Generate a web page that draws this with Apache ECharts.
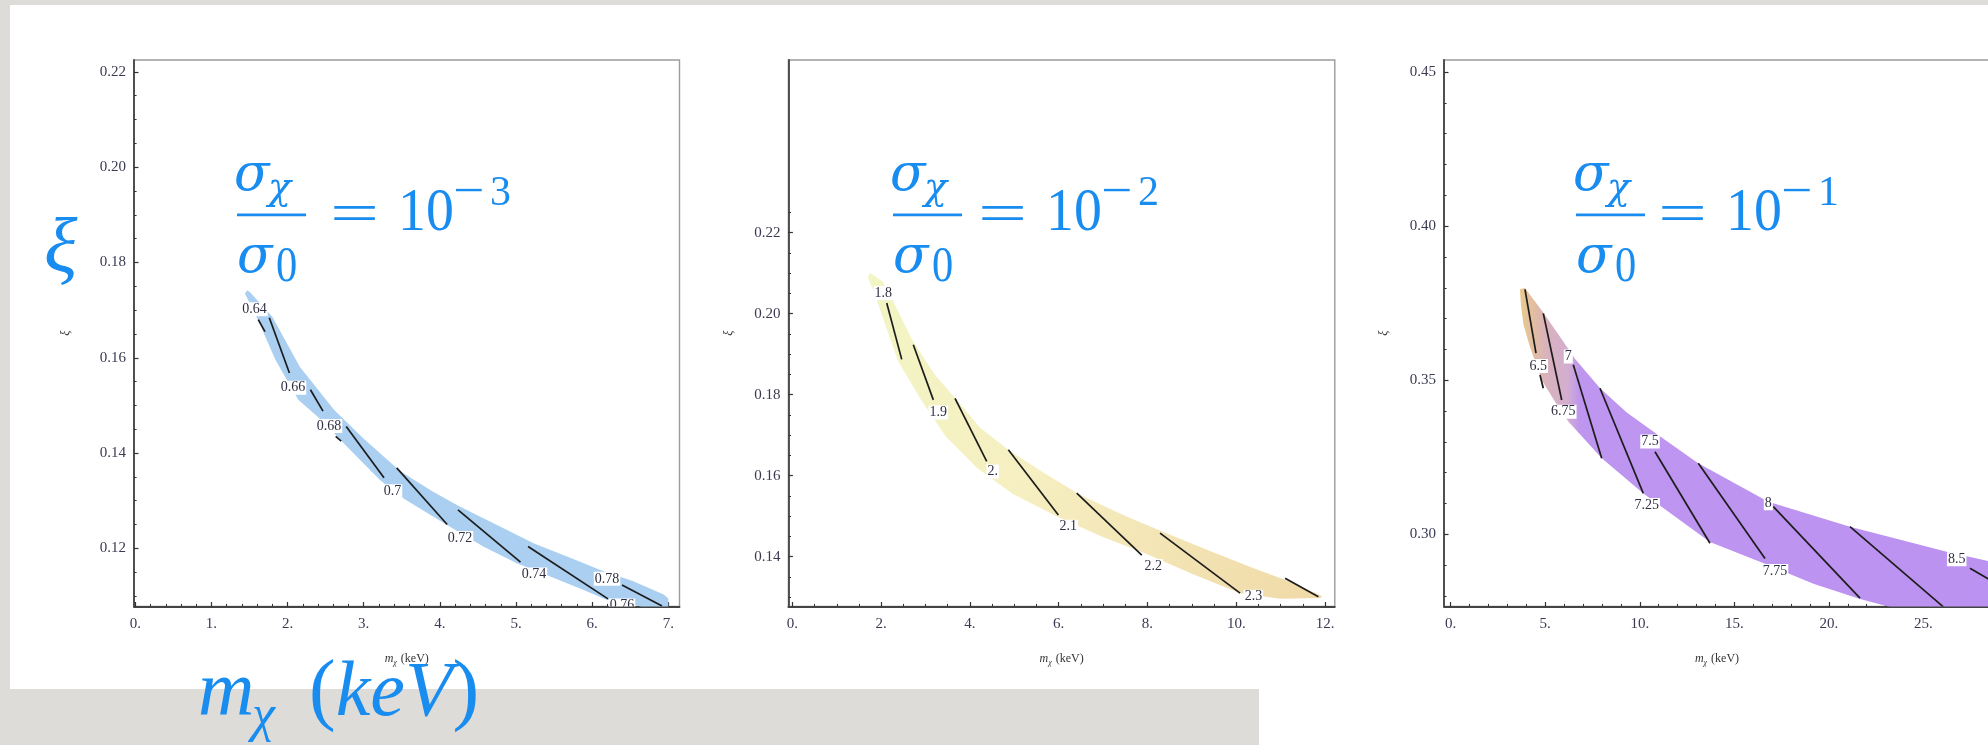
<!DOCTYPE html>
<html>
<head>
<meta charset="utf-8">
<script src="https://cdn.jsdelivr.net/npm/echarts@6/dist/echarts.min.js"></script>
<style>
  html, body { margin: 0; padding: 0; width: 1988px; height: 745px; overflow: hidden; background: #dedcd8; }
  #sheetTop { position: absolute; left: 10px; top: 5px; width: 1978px; height: 684px; background: #fff; }
  #sheetFoot { position: absolute; left: 1259px; top: 689px; width: 729px; height: 56px; background: #fff; }
  #chart { position: absolute; left: 0; top: 0; width: 1988px; height: 745px; }
</style>
</head>
<body>
<div id="sheetTop"></div>
<div id="sheetFoot"></div>
<div id="chart"></div>
<script>
// ---------- tick labels ----------
const xTicks1 = [0, 1, 2, 3, 4, 5, 6, 7];
const yTicks1 = [0.12, 0.14, 0.16, 0.18, 0.20, 0.22];
const xTicks2 = [0, 2, 4, 6, 8, 10, 12];
const yTicks2 = [0.14, 0.16, 0.18, 0.20, 0.22];
const xTicks3 = [0, 5, 10, 15, 20, 25];
const yTicks3 = [0.30, 0.35, 0.40, 0.45];

// ---------- σχ/σ0 = 10^-3 : allowed band in (mχ [keV], ξ) ----------
const band1Upper = [[1.47,0.1742],[1.51,0.1737],[1.80,0.1686],[2.16,0.1581],[2.61,0.1491],[3.00,0.1430],[3.48,0.1362],[3.90,0.1320],[4.26,0.1288],[4.79,0.1246],[5.23,0.1211],[5.67,0.1183],[6.10,0.1155],[6.54,0.1131],[6.94,0.1103],[7.00,0.1095]];
const band1Lower = [[1.44,0.1735],[1.61,0.1680],[1.84,0.1596],[2.14,0.1512],[2.44,0.1470],[2.82,0.1407],[3.21,0.1344],[3.48,0.1309],[4.05,0.1253],[4.57,0.1204],[5.01,0.1169],[5.45,0.1141],[5.88,0.1113],[6.19,0.1092],[6.54,0.1082],[7.00,0.1060]];
const contours1 = [
  [[1.615,0.1680],[1.703,0.1655]],
  [[1.760,0.1684],[2.024,0.1568]],
  [[2.300,0.1533],[2.465,0.1488]],
  [[2.632,0.1435],[2.704,0.1425]],
  [[2.770,0.1456],[3.266,0.1348]],
  [[3.433,0.1369],[4.096,0.1250]],
  [[4.238,0.1281],[5.059,0.1171]],
  [[5.158,0.1204],[6.208,0.1094]],
  [[6.392,0.1123],[6.918,0.1079]]
];
const labels1 = [['0.64',1.565,0.1702],['0.66',2.071,0.1537],['0.68',2.544,0.1457],['0.7',3.378,0.1320],['0.72',4.265,0.1222],['0.74',5.236,0.1145],['0.78',6.195,0.1136],['0.76',6.392,0.1080]];

// ---------- σχ/σ0 = 10^-2 ----------
const band2Upper = [[1.75,0.2101],[2.04,0.2078],[2.31,0.2022],[2.70,0.1935],[3.21,0.1849],[3.66,0.1792],[4.23,0.1718],[4.90,0.1661],[5.69,0.1605],[6.48,0.1553],[7.49,0.1501],[8.40,0.1459],[9.41,0.1414],[10.42,0.1370],[11.21,0.1338],[11.93,0.1303]];
const band2Lower = [[1.70,0.2089],[1.86,0.2047],[2.09,0.1973],[2.38,0.1883],[2.90,0.1787],[3.46,0.1696],[4.16,0.1619],[4.97,0.1555],[5.99,0.1498],[6.98,0.1449],[7.97,0.1407],[9.00,0.1358],[10.09,0.1310],[11.00,0.1296],[11.90,0.1298]];
const contours2 = [
  [[2.125,0.2026],[2.463,0.1887]],
  [[2.724,0.1923],[3.175,0.1787]],
  [[3.664,0.1791],[4.378,0.1635]],
  [[4.865,0.1664],[5.992,0.1503]],
  [[6.406,0.1557],[7.871,0.1404]],
  [[8.283,0.1458],[10.086,0.1310]],
  [[11.100,0.1347],[11.850,0.1301]]
];
const labels2 = [['1.8',2.048,0.2051],['1.9',3.288,0.1756],['2.',4.513,0.1610],['2.1',6.217,0.1474],['2.2',8.132,0.1377],['2.3',10.386,0.1301]];

// ---------- σχ/σ0 = 10^-1 ----------
const band3Upper = [[3.93,0.3799],[4.90,0.3719],[5.78,0.3641],[6.57,0.3570],[7.90,0.3474],[9.31,0.3395],[10.80,0.3330],[13.09,0.3231],[16.80,0.3106],[21.12,0.3025],[26.23,0.2944],[29.00,0.2905]];
const band3Lower = [[3.66,0.3795],[3.72,0.3740],[3.85,0.3680],[4.19,0.3609],[4.81,0.3501],[5.52,0.3430],[6.22,0.3366],[7.99,0.3247],[10.19,0.3133],[13.71,0.2975],[16.62,0.2905],[19.18,0.2840],[21.65,0.2790],[24.00,0.2752],[29.00,0.2700]];
const contours3 = [
  [[3.929,0.3795],[4.511,0.3588]],
  [[4.722,0.3517],[4.897,0.3474]],
  [[4.897,0.3717],[5.870,0.3436]],
  [[6.483,0.3550],[7.985,0.3247]],
  [[7.895,0.3474],[10.185,0.3133]],
  [[10.804,0.3268],[13.712,0.2971]],
  [[13.094,0.3231],[16.621,0.2922]],
  [[17.06,0.3090],[21.645,0.2793]],
  [[21.116,0.3025],[26.05,0.2765]],
  [[27.46,0.2890],[29.00,0.2835]]
];
const labels3 = [['6.5',4.633,0.3546],['7',6.219,0.3577],['6.75',5.955,0.3398],['7.5',10.540,0.3301],['7.25',10.365,0.3095],['8',16.796,0.3101],['7.75',17.15,0.2881],['8.5',26.76,0.2919]];

// ---------- styling ----------
const SERIF = '"Liberation Serif", "DejaVu Serif", "Times New Roman", serif';
const GREEK = '"DejaVu Serif", "Liberation Serif", serif';
const BLUE = '#198cf0';
const TICK_TEXT = '#3a3a52';

function steps(a, b, s) {
  const out = [];
  for (let k = 0; a + k * s <= b + 1e-9; k++) out.push(+(a + k * s).toFixed(4));
  return out;
}

const panels = [
  {
    grid: { left: 134, top: 60, width: 545.5, height: 546.5 },
    xRange: [-0.017, 7.147], yRange: [0.1078, 0.2225],
    xTicks: xTicks1, yTicks: yTicks1,
    xMinor: steps(0, 7.1, 0.2), yMinor: steps(0.11, 0.22, 0.005),
    upper: band1Upper, lower: band1Lower, contours: contours1, labels: labels1,
    fill: '#abcff1', yNameGap: 62
  },
  {
    grid: { left: 788.4, top: 60, width: 546.4, height: 546.5 },
    xRange: [-0.09, 12.22], yRange: [0.1277, 0.2626],
    xTicks: xTicks2, yTicks: yTicks2,
    xMinor: steps(0, 12, 0.5), yMinor: steps(0.13, 0.225, 0.005),
    upper: band2Upper, lower: band2Lower, contours: contours2, labels: labels2,
    fill: new echarts.graphic.LinearGradient(0, 0, 1, 1, [
      { offset: 0, color: '#f2f5c4' },
      { offset: 0.45, color: '#f6efc1' },
      { offset: 1, color: '#f0d9a7' }
    ]),
    yNameGap: 54
  },
  {
    grid: { left: 1444, top: 60, width: 546, height: 546.5 },
    xRange: [-0.354, 28.52], yRange: [0.2766, 0.4539],
    xTicks: xTicks3, yTicks: yTicks3,
    xMinor: steps(0, 28, 1), yMinor: steps(0.28, 0.45, 0.01),
    upper: band3Upper, lower: band3Lower, contours: contours3, labels: labels3,
    fill: new echarts.graphic.LinearGradient(0, 0, 1, 0, [
      { offset: 0, color: '#e9c98f' },
      { offset: 0.03, color: '#e2bda2' },
      { offset: 0.055, color: '#d9b2bc' },
      { offset: 0.1, color: '#d3aed0' },
      { offset: 0.125, color: '#be95ef' },
      { offset: 1, color: '#bb92f1' }
    ]),
    yNameGap: 54
  }
];

const xFmt = v => (Number.isInteger(v) ? v + '.' : String(v));
const yFmt = v => v.toFixed(2);

const grids = [], xAxes = [], yAxes = [], series = [];

panels.forEach((p, gi) => {
  grids.push(Object.assign({ show: true, borderColor: '#9c9c9c', borderWidth: 1.4,
    backgroundColor: 'transparent', containLabel: false, outerBoundsMode: 'none' }, p.grid));

  const labelStyle = { fontFamily: SERIF, fontSize: 15, color: TICK_TEXT };

  xAxes.push({
    type: 'value', gridIndex: gi, position: 'bottom', min: p.xRange[0], max: p.xRange[1],
    axisLine: { show: true, onZero: false, lineStyle: { color: '#444', width: 1.8 } },
    axisTick: { show: true, inside: true, length: 4.5, customValues: p.xTicks, lineStyle: { color: '#333', width: 1.2 } },
    axisLabel: Object.assign({ customValues: p.xTicks, formatter: xFmt, margin: 10 }, labelStyle),
    splitLine: { show: false },
    name: '{i|m}{s|χ} (keV)', nameLocation: 'middle', nameGap: 45,
    nameTextStyle: {
      fontFamily: SERIF, fontSize: 12, color: '#333',
      rich: {
        i: { fontFamily: SERIF, fontSize: 12, fontStyle: 'italic', color: '#333' },
        s: { fontFamily: SERIF, fontSize: 8, fontStyle: 'italic', color: '#333', padding: [7, 1, 0, 0] }
      }
    }
  });
  xAxes.push({
    type: 'value', gridIndex: gi, position: 'bottom', min: p.xRange[0], max: p.xRange[1],
    axisLine: { show: false, onZero: false }, axisLabel: { show: false }, splitLine: { show: false },
    axisTick: { show: true, inside: true, length: 2.6, customValues: p.xMinor, lineStyle: { color: '#333', width: 1 } }
  });
  yAxes.push({
    type: 'value', gridIndex: gi, position: 'left', min: p.yRange[0], max: p.yRange[1],
    axisLine: { show: true, onZero: false, lineStyle: { color: '#444', width: 1.8 } },
    axisTick: { show: true, inside: true, length: 4.5, customValues: p.yTicks, lineStyle: { color: '#333', width: 1.2 } },
    axisLabel: Object.assign({ customValues: p.yTicks, formatter: yFmt, margin: 8 }, labelStyle),
    splitLine: { show: false },
    name: 'ξ', nameLocation: 'middle', nameRotate: 90, nameGap: p.yNameGap,
    nameTextStyle: { fontFamily: SERIF, fontSize: 12, fontStyle: 'italic', color: '#333' }
  });
  yAxes.push({
    type: 'value', gridIndex: gi, position: 'left', min: p.yRange[0], max: p.yRange[1],
    axisLine: { show: false, onZero: false }, axisLabel: { show: false }, splitLine: { show: false },
    axisTick: { show: true, inside: true, length: 2.6, customValues: p.yMinor, lineStyle: { color: '#333', width: 1 } }
  });

  const axisRef = { xAxisIndex: gi * 2, yAxisIndex: gi * 2 };

  // shaded band: upper edge, then lower edge walked back
  series.push(Object.assign({
    type: 'custom', clip: true, silent: true, z: 2,
    data: [p.upper[0]],
    renderItem: (params, api) => {
      const pts = p.upper.concat(p.lower.slice().reverse()).map(pt => api.coord(pt));
      return { type: 'polygon', shape: { points: pts }, style: { fill: p.fill } };
    }
  }, axisRef));

  // contour segments
  series.push(Object.assign({
    type: 'custom', clip: true, silent: true, z: 3,
    data: [p.upper[0]],
    renderItem: (params, api) => ({
      type: 'group',
      children: p.contours.map(seg => ({
        type: 'polyline',
        shape: { points: seg.map(pt => api.coord(pt)) },
        style: { stroke: '#1c1c1c', lineWidth: 1.7, fill: null }
      }))
    })
  }, axisRef));

  // contour level labels
  series.push(Object.assign({
    type: 'custom', clip: true, silent: true, z: 4,
    data: [p.upper[0]],
    renderItem: (params, api) => ({
      type: 'group',
      children: p.labels.map(([txt, x, y]) => {
        const c = api.coord([x, y]);
        return {
          type: 'text', x: c[0], y: c[1],
          style: {
            text: txt, fontFamily: SERIF, fontSize: 14, fill: '#2f2f42',
            align: 'center', verticalAlign: 'middle',
            backgroundColor: '#ffffff', padding: [0, 1, 0, 1]
          }
        };
      })
    })
  }, axisRef));
});

// ---------- equation annotations ----------
function txt(x, y, text, size, opts) {
  opts = opts || {};
  return {
    type: 'text', x: x, y: y, z: 50,
    scaleX: opts.sx || 1, scaleY: opts.sy || 1,
    style: {
      text: text, fontSize: size,
      fontFamily: opts.family || SERIF,
      fontStyle: opts.italic ? 'italic' : 'normal',
      fill: BLUE, align: 'left', verticalAlign: 'middle'
    }
  };
}

const exponents = ['3', '2', '1'];
const fracShift = [0, 656, 1339];
const eqShift = [0, 648, 1328];

const graphics = [];
exponents.forEach((e, i) => {
  const f = fracShift[i], q = eqShift[i];
  graphics.push(
    txt(234 + f, 176, 'σ', 52, { italic: true, family: GREEK }),
    txt(268 + f, 189, 'χ', 38, { italic: true, family: GREEK }),
    { type: 'rect', z: 50, shape: { x: 237 + f, y: 213.6, width: 69, height: 2.6 }, style: { fill: BLUE } },
    txt(237 + f, 258, 'σ', 52, { italic: true, family: GREEK }),
    txt(276 + f, 268, '0', 50, { sx: 0.85 }),
    txt(330 + q, 217, '=', 58, { sx: 1.5 }),
    txt(398 + q, 214, '10', 62, { sx: 0.9 }),
    txt(453 + q, 193, '−', 48, { sx: 1.15 }),
    txt(490 + q, 194, e, 42)
  );
});

// big axis symbols
graphics.push(
  txt(44, 251, 'ξ', 78, { italic: true }),
  txt(198, 694, 'm', 78, { italic: true }),
  txt(252, 717, 'χ', 52, { italic: true }),
  {
    type: 'text', x: 309, y: 694, z: 50,
    style: {
      text: '{p|(}{i|keV}{p|)}', align: 'left', verticalAlign: 'middle', fill: BLUE,
      rich: {
        p: { fontFamily: SERIF, fontSize: 80, fill: BLUE },
        i: { fontFamily: SERIF, fontSize: 78, fontStyle: 'italic', fill: BLUE }
      }
    }
  }
);

const chart = echarts.init(document.getElementById('chart'), null, { renderer: 'canvas', width: 1988, height: 745 });
chart.setOption({
  backgroundColor: 'transparent',
  animation: false,
  grid: grids,
  xAxis: xAxes,
  yAxis: yAxes,
  series: series,
  graphic: { elements: graphics }
});
</script>
</body>
</html>
